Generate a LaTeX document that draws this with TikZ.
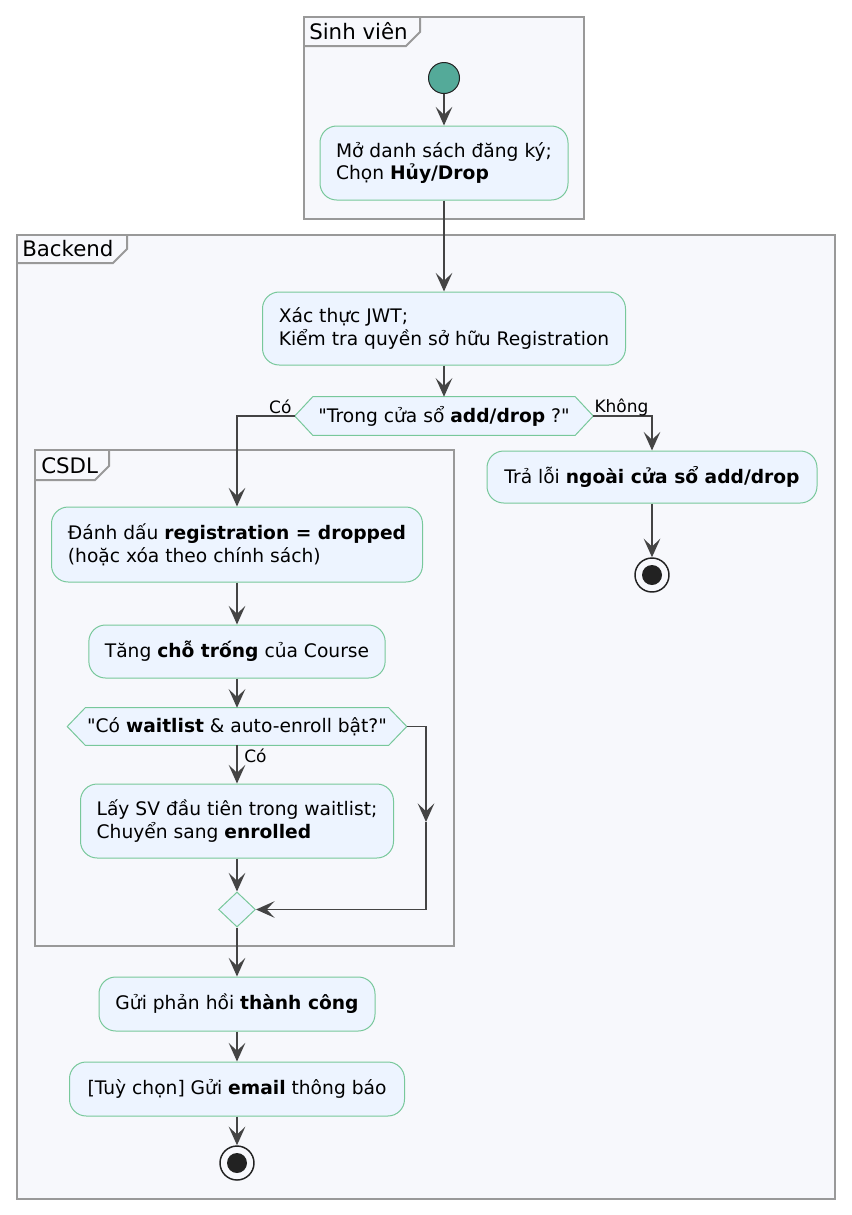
\documentclass[tikz,border=0pt]{standalone}
\usepackage{fontspec}
\setmainfont{DejaVu Sans}[Ligatures=TeXOff]
\usetikzlibrary{arrows.meta,shapes.geometric}
\definecolor{framefill}{RGB}{247,248,252}
\definecolor{framedraw}{RGB}{153,153,153}
\definecolor{boxfill}{RGB}{237,244,255}
\definecolor{boxdraw}{RGB}{120,200,155}
\definecolor{arrcol}{RGB}{68,68,68}
\definecolor{startcol}{RGB}{84,170,153}
\definecolor{endcol}{RGB}{34,34,34}
\pgfdeclarelayer{frames}
\pgfdeclarelayer{back}
\pgfsetlayers{frames,back,main}
\tikzset{
  act/.style={rectangle, rounded corners=12.5pt, draw=boxdraw, fill=boxfill, line width=0.75pt, inner xsep=12pt, inner ysep=3pt, align=left, font=\fontsize{14}{17}\selectfont},
  hexnode/.style={rectangle, inner sep=0pt, font=\fontsize{14}{17}\selectfont},
  hexshape/.style={draw=boxdraw, fill=boxfill, line width=0.75pt},
  framebox/.style={draw=framedraw, fill=framefill, line width=1.5pt},
  frametab/.style={draw=framedraw, line width=1.5pt},
  frametitle/.style={anchor=base west, inner sep=0pt, font=\fontsize{16}{19}\selectfont},
  arr/.style={draw=arrcol, line width=1.1pt, -{Stealth[length=14pt, width=12.5pt, inset=6pt]}},
  lbl/.style={inner sep=0pt, font=\fontsize{12.75}{15}\selectfont},
  startnode/.style={circle, fill=startcol, draw=endcol, line width=0.75pt, minimum size=23.25pt, inner sep=0pt},
  endnode/.style={circle, draw=endcol, line width=1.1pt, fill=framefill, minimum size=25.5pt, inner sep=0pt, path picture={\fill[endcol] (path picture bounding box.center) circle[radius=7.5pt];}},
  mergenode/.style={diamond, draw=boxdraw, fill=boxfill, line width=0.75pt, minimum width=27.75pt, minimum height=26.25pt, inner sep=0pt},
}
\begin{document}
\begin{tikzpicture}[x=0.75pt,y=-0.75pt]
\useasboundingbox (0,0) rectangle (851,1215);

% frames
\begin{pgfonlayer}{frames}
\draw[framebox] (304,17) rectangle (584,219);
\draw[frametab] (304,46) -- (406,46) -- (420,32) -- (420,17);
\node[frametitle] (tsv) at (309,39) {Sinh viên};
\draw[framebox] (17,235) rectangle (835,1199);
\draw[frametab] (17,263) -- (113,263) -- (127,249) -- (127,235);
\node[frametitle] (tbe) at (22,256) {Backend};
\draw[framebox] (35,450) rectangle (454,946);
\draw[frametab] (35,480) -- (95,480) -- (109,466) -- (109,450);
\node[frametitle] (tdb) at (41,473) {CSDL};
\end{pgfonlayer}

% nodes
\node[startnode] (start) at (444,78) {};
\node[act, minimum width=186pt, minimum height=55.5pt] (a1) at (444,163) {Mở danh sách đăng ký;\\Chọn \textbf{Hủy/Drop}};
\node[act, minimum width=272.25pt, minimum height=54.75pt] (a2) at (444,328.5) {Xác thực JWT;\\Kiểm tra quyền sở hữu Registration};
\node[hexnode, minimum width=223.5pt, minimum height=28.5pt] (h1) at (444,416) {"Trong cửa sổ \textbf{add/drop} ?"};
\node[act, minimum width=247.5pt, minimum height=39pt] (err) at (652,477) {Trả lỗi \textbf{ngoài cửa sổ add/drop}};
\node[endnode] (end2) at (652,575) {};
\node[act, minimum width=278.25pt, minimum height=56.25pt] (a3) at (237,544.5) {Đánh dấu \textbf{registration = dropped}\\(hoặc xóa theo chính sách)};
\node[act, minimum width=222pt, minimum height=39.75pt] (a4) at (237,651.5) {Tăng \textbf{chỗ trống} của Course};
\node[hexnode, minimum width=254.25pt, minimum height=27.75pt] (h2) at (237,726.5) {"Có \textbf{waitlist} \& auto-enroll bật?"};
\node[act, minimum width=234.75pt, minimum height=55.5pt] (a5) at (237,821) {Lấy SV đầu tiên trong waitlist;\\Chuyển sang \textbf{enrolled}};
\node[mergenode] (mg) at (237,909.5) {};
\coordinate (m1) at (426,822);
\node[act, minimum width=207pt, minimum height=40.5pt] (a6) at (237,1004) {Gửi phản hồi \textbf{thành công}};
\node[act, minimum width=251.25pt, minimum height=40.5pt] (a7) at (237,1089) {[Tuỳ chọn] Gửi \textbf{email} thông báo};
\node[endnode] (end1) at (237,1163) {};

% hexagon outlines
\begin{pgfonlayer}{back}
\draw[hexshape] (h1.west) -- ([xshift=13.5pt]h1.north west) -- ([xshift=-13.5pt]h1.north east) -- (h1.east) -- ([xshift=-13.5pt]h1.south east) -- ([xshift=13.5pt]h1.south west) -- cycle;
\draw[hexshape] (h2.west) -- ([xshift=13.5pt]h2.north west) -- ([xshift=-13.5pt]h2.north east) -- (h2.east) -- ([xshift=-13.5pt]h2.south east) -- ([xshift=13.5pt]h2.south west) -- cycle;
\end{pgfonlayer}

% connectors
\draw[arr] (start) -- (a1);
\draw[arr] (a1) -- (a2);
\draw[arr] (a2) -- (h1);
\draw[arr] (h1.west) -| (a3.north);
\node[lbl, anchor=base east] (lco1) at ([xshift=-2.25pt, yshift=2.25pt]h1.west) {Có};
\draw[arr] (h1.east) -| (err.north);
\node[lbl, anchor=base west] (lkh) at ([xshift=0.75pt, yshift=3pt]h1.east) {Không};
\draw[arr] (err) -- (end2);
\draw[arr] (a3) -- (a4);
\draw[arr] (a4) -- (h2);
\draw[arr] (h2) -- (a5);
\node[lbl, anchor=base west] (lco2) at ([xshift=5.25pt, yshift=-12.75pt]h2.south) {Có};
\draw[arr] (a5) -- (mg);
\draw[arr] (h2.east) -| (m1);
\draw[arr] (m1) |- (mg.east);
\draw[arr] (mg) -- (a6);
\draw[arr] (a6) -- (a7);
\draw[arr] (a7) -- (end1);
\end{tikzpicture}
\end{document}
